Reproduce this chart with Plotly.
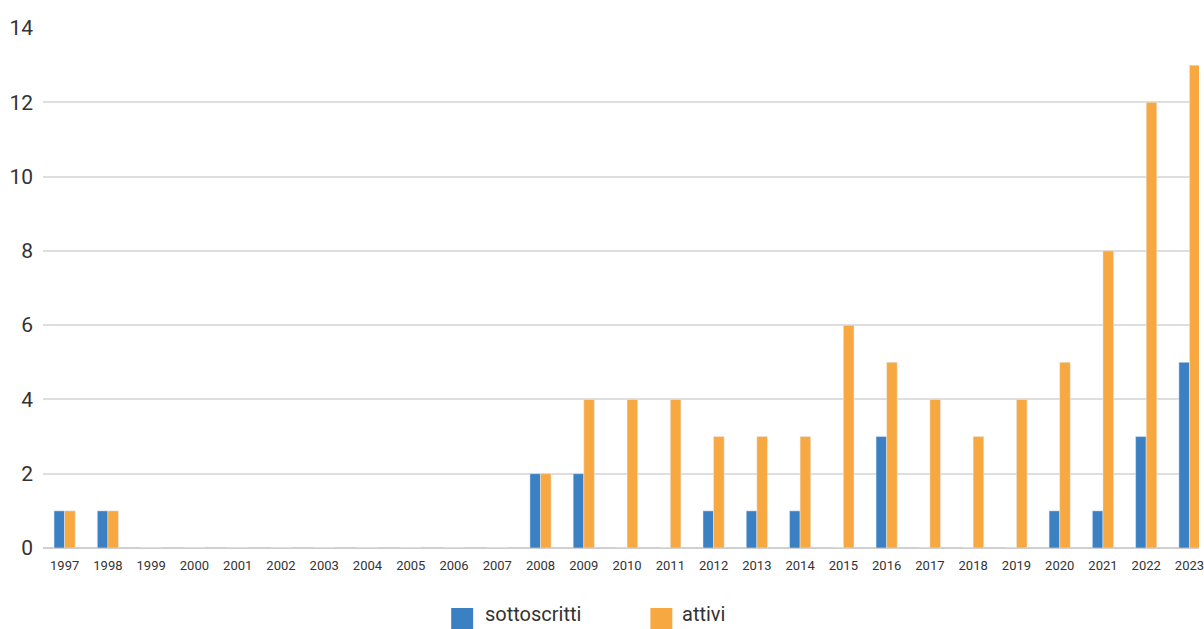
import plotly.graph_objects as go

years = [str(y) for y in range(1997, 2024)]
sottoscritti = [1, 1, 0, 0, 0, 0, 0, 0, 0, 0, 0, 2, 2, 0, 0, 1, 1, 1, 0, 3, 0, 0, 0, 1, 1, 3, 5]
attivi = [1, 1, 0, 0, 0, 0, 0, 0, 0, 0, 0, 2, 4, 4, 4, 3, 3, 3, 6, 5, 4, 3, 4, 5, 8, 12, 13]
y_ticks = [0, 2, 4, 6, 8, 10, 12, 14]
series_names = ["sottoscritti", "attivi"]
colors = ["#3a80c3", "#f7a840"]

FONT = "Roboto, sans-serif"

fig = go.Figure()
fig.add_trace(go.Bar(x=years, y=sottoscritti, name=series_names[0], marker_color=colors[0], showlegend=False))
fig.add_trace(go.Bar(x=years, y=attivi, name=series_names[1], marker_color=colors[1], showlegend=False))

# manual legend (paper coordinates below the plot area)
leg = [(0.3531, 0.3721, 0.3807), (0.5254, 0.5444, 0.5512)]
for (x0, x1, xt), name, c in zip(leg, series_names, colors):
    fig.add_shape(type="rect", xref="paper", yref="paper", x0=x0, x1=x1, y0=-0.1577, y1=-0.1154,
                  fillcolor=c, line_width=0)
    fig.add_annotation(xref="paper", yref="paper", x=xt, y=-0.127, text=name, showarrow=False,
                       xanchor="left", yanchor="middle", font=dict(family=FONT, size=20, color="#333333"))

fig.update_layout(
    width=1204, height=629,
    margin=dict(l=43, r=0, t=28, b=81),
    paper_bgcolor="white", plot_bgcolor="white",
    barmode="group", bargap=0.51, bargroupgap=0,
    font=dict(family=FONT, color="#333333"),
    xaxis=dict(type="category", range=[-0.5, 26.22], tickfont=dict(size=13, family=FONT, color="#333333"),
               ticks="", showgrid=False, showline=False, zeroline=False, ticklabelstandoff=8),
    yaxis=dict(range=[0, 14], tickvals=y_ticks, tickfont=dict(size=21, family=FONT, color="#333333"),
               showgrid=True, gridcolor="#dedede", gridwidth=2, zeroline=True, zerolinecolor="#cfcfcf",
               zerolinewidth=2, ticks="", ticklabelstandoff=9),
)

fig.write_html("out.html")
